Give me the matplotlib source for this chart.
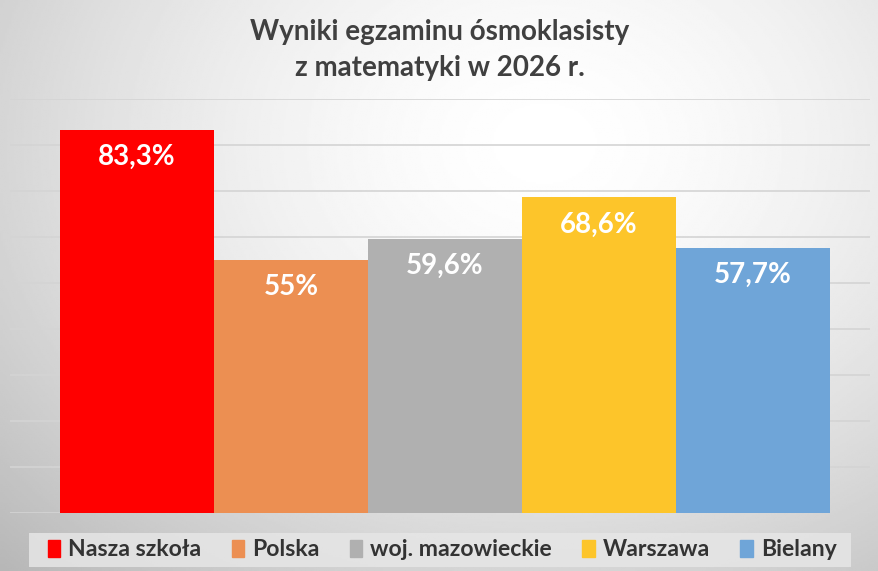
import numpy as np
import matplotlib.pyplot as plt
from matplotlib.patches import Rectangle

# Data
categories = ['Nasza szkoła', 'Polska', 'woj. mazowieckie', 'Warszawa', 'Bielany']
values = [83.3, 55.0, 59.6, 68.6, 57.7]
labels = ['83,3%', '55%', '59,6%', '68,6%', '57,7%']
colors = ['#FF0000', '#EC8F52', '#B0B0B0', '#FDC52A', '#6FA5D8']

plt.rcParams['font.family'] = ['Lato', 'DejaVu Sans']

fig = plt.figure(figsize=(8.79, 5.71), dpi=100)

# background gradient (light in upper right, gray toward edges)
bg = fig.add_axes([0, 0, 1, 1], zorder=-10)
yy, xx = np.mgrid[0:1:300j, 0:1:460j]
d = np.sqrt(((xx - 0.62) / 0.75) ** 2 + ((yy - 0.25) / 0.9) ** 2)
shade = 1.0 - 0.22 * np.clip(d, 0, 1.3) ** 1.6
bg.imshow(shade, cmap='gray', vmin=0, vmax=1, aspect='auto',
          extent=[0, 1, 0, 1], origin='upper')
bg.axis('off')

ax = fig.add_axes([10 / 879, 58 / 571, 860 / 879, 414 / 571])
ax.patch.set_alpha(0)
x = np.arange(len(values))
ax.bar(x, values, width=1.0, color=colors, zorder=3)
ax.set_xlim(-0.825, 4.76)
ax.set_ylim(0, 90)
ax.set_yticks(np.arange(0, 91, 10))
ax.yaxis.grid(True, color='#D4D4D4', linewidth=1.2, zorder=0)
ax.set_xticks([])
ax.tick_params(left=False, labelleft=False)
for s in ax.spines.values():
    s.set_visible(False)

for xi, v, lab in zip(x, values, labels):
    ax.annotate(lab, (xi, v), xytext=(0, -19.5), textcoords='offset points',
                ha='center', va='center', color='white', fontsize=20,
                fontweight='bold', zorder=4)

fig.text(0.5, 1 - 50 / 571, 'Wyniki egzaminu ósmoklasisty\nz matematyki w 2026 r.',
         ha='center', va='center', fontsize=20, fontweight='bold',
         color='#404040', linespacing=1.45)

# legend with gray box
fig.patches.append(Rectangle((29 / 879, 4 / 571), 822 / 879, 34 / 571,
                             transform=fig.transFigure, facecolor='#E6E6E6',
                             edgecolor='none', alpha=0.85, zorder=1))
handles = [Rectangle((0, 0), 1, 1, color=c) for c in colors]
fig.legend(handles, categories, loc='center', bbox_to_anchor=(0.503, 21 / 571),
           ncol=5, frameon=False, handlelength=0.55,
           handleheight=0.8, handletextpad=0.35, columnspacing=1.3,
           prop={'weight': 'bold', 'size': 16.6})
for t in fig.legends[0].get_texts():
    t.set_color('#333333')

fig.savefig('out.png', dpi=100)
